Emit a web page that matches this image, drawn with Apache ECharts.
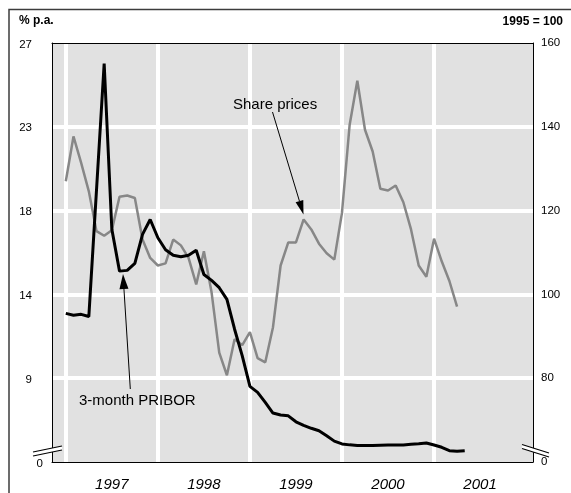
<!DOCTYPE html>
<html>
<head>
<meta charset="utf-8">
<script src="https://cdn.jsdelivr.net/npm/echarts@6/dist/echarts.min.js"></script>
<style>
  html, body { margin: 0; padding: 0; background: #fff; }
  #chart { width: 571px; height: 493px; }
</style>
</head>
<body>
<div id="chart"></div>
<script>
// ---- data ----
const months = [
  '1997-01','1997-02','1997-03','1997-04','1997-05','1997-06','1997-07','1997-08','1997-09','1997-10','1997-11','1997-12',
  '1998-01','1998-02','1998-03','1998-04','1998-05','1998-06','1998-07','1998-08','1998-09','1998-10','1998-11','1998-12',
  '1999-01','1999-02','1999-03','1999-04','1999-05','1999-06','1999-07','1999-08','1999-09','1999-10','1999-11','1999-12',
  '2000-01','2000-02','2000-03','2000-04','2000-05','2000-06','2000-07','2000-08','2000-09','2000-10','2000-11','2000-12',
  '2001-01','2001-02','2001-03','2001-04','2001-05'
];
// 3-month PRIBOR, % p.a. (left axis)
const pribor = [
  12.48, 12.38, 12.43, 12.31, 19.1, 25.9, 17.0, 14.75, 14.79, 15.16, 16.72, 17.52,
  16.54, 15.9, 15.6, 15.52, 15.6, 15.87, 14.57, 14.25, 13.86, 13.23, 11.63, 10.2,
  8.56, 8.24, 7.7, 7.13, 7.02, 6.98, 6.66, 6.47, 6.31, 6.18, 5.91, 5.62,
  5.47, 5.42, 5.38, 5.38, 5.38, 5.40, 5.41, 5.41, 5.41, 5.45, 5.48, 5.52,
  5.41, 5.29, 5.11, 5.08, 5.11
];
// Share prices, 1995 = 100 (right axis)
const sharePrices = [
  127.0, 137.7, 131.4, 124.6, 115.1, 114.0, 115.3, 123.3, 123.6, 123.0, 113.1, 108.7,
  106.9, 107.4, 113.1, 111.7, 108.7, 102.4, 110.3, 100.5, 86.1, 80.7, 89.3, 87.9,
  91.0, 84.8, 83.8, 92.1, 106.9, 112.4, 112.4, 117.9, 115.5, 112.1, 109.8, 108.3,
  119.5, 140.5, 151.0, 139.3, 134.1, 125.2, 124.8, 126.0, 122.0, 115.5, 106.9, 104.2,
  113.3, 107.9, 103.2, 97.1
];
const yearTicks = [1997, 1998, 1999, 2000, 2001];
const leftGridValues = [9, 13.5, 18, 22.5];
const leftAxisTicks = { min: 4.5, max: 27, step: 4.5 };   // bottom tick shown as "0" (axis break)
const rightAxisTicks = { min: 60, max: 160, step: 20 };   // bottom tick shown as "0" (axis break)

function toYear(m) {
  const p = m.split('-').map(Number);
  return p[0] + (p[1] - 1) / 12;
}
const priborData = pribor.map((v, i) => [toYear(months[i]), v]);
const shareData = sharePrices.map((v, i) => [toYear(months[i]), v]);

const FONT = '"Liberation Sans", Arial, Helvetica, sans-serif';

function arrowEls(x1, y1, x2, y2, len, w) {
  const dx = x2 - x1, dy = y2 - y1, L = Math.hypot(dx, dy);
  const ux = dx / L, uy = dy / L;
  const bx = x2 - ux * len, by = y2 - uy * len;
  const px = -uy * w / 2, py = ux * w / 2;
  return [
    { type: 'line', silent: true, z: 100,
      shape: { x1: x1, y1: y1, x2: bx, y2: by },
      style: { stroke: '#000', lineWidth: 1 } },
    { type: 'polygon', silent: true, z: 100,
      shape: { points: [[x2, y2], [bx + px, by + py], [bx - px, by - py]] },
      style: { fill: '#000' } }
  ];
}

function breakEls(ax1, ay1, ax2, ay2, gap) {
  return [
    { type: 'polygon', silent: true, z: 100,
      shape: { points: [[ax1, ay1], [ax2, ay2], [ax2, ay2 + gap], [ax1, ay1 + gap]] },
      style: { fill: '#fff' } },
    { type: 'line', silent: true, z: 101,
      shape: { x1: ax1, y1: ay1, x2: ax2, y2: ay2 },
      style: { stroke: '#000', lineWidth: 1.2 } },
    { type: 'line', silent: true, z: 101,
      shape: { x1: ax1, y1: ay1 + gap, x2: ax2, y2: ay2 + gap },
      style: { stroke: '#000', lineWidth: 1.2 } }
  ];
}

const chart = echarts.init(document.getElementById('chart'), null, { renderer: 'canvas' });

const axisLineStyle = { show: true, lineStyle: { color: '#000', width: 1 } };

const option = {
  animation: false,
  backgroundColor: '#fff',
  textStyle: { fontFamily: FONT },
  title: [
    { text: '% p.a.', left: 19, top: 15, padding: 0,
      textStyle: { fontSize: 12, fontWeight: 'bold', color: '#000', fontFamily: FONT } },
    { text: '1995 = 100', right: 8, top: 16, padding: 0,
      textStyle: { fontSize: 12, fontWeight: 'bold', color: '#000', fontFamily: FONT } }
  ],
  grid: {
    left: 52, right: 38, top: 43, bottom: 31,
    show: true, backgroundColor: '#e1e1e1', borderWidth: 0
  },
  xAxis: [
    {
      type: 'value', position: 'bottom', z: 5,
      min: 1996.85, max: 2002.075, minInterval: 1, maxInterval: 1,
      axisLine: axisLineStyle, axisTick: { show: false }, splitLine: { show: false },
      axisLabel: {
        margin: 15,
        formatter: function (v) {
          const r = Math.round(v);
          if (Math.abs(v - r) < 1e-6 && yearTicks.indexOf(r) >= 0) return '{y|' + r + '}';
          return '';
        },
        rich: {
          y: { padding: [0, 0, 0, 92], fontSize: 15, fontStyle: 'italic', color: '#000', fontFamily: FONT }
        }
      }
    },
    {
      type: 'value', position: 'top', z: 5,
      min: 1996.85, max: 2002.075,
      axisLine: axisLineStyle, axisTick: { show: false }, splitLine: { show: false },
      axisLabel: { show: false }
    }
  ],
  yAxis: [
    {
      type: 'value', position: 'left', z: 5,
      min: leftAxisTicks.min, max: leftAxisTicks.max, interval: leftAxisTicks.step,
      axisLine: axisLineStyle, axisTick: { show: false }, splitLine: { show: false },
      axisLabel: {
        margin: 9,
        formatter: function (v) {
          return v < leftAxisTicks.min + 0.01 ? '{z|0}' : '{n|' + Math.round(v) + '}';
        },
        rich: {
          n: { padding: [3, 11, 0, 0], fontSize: 11.5, color: '#000', fontFamily: FONT },
          z: { padding: [3, 0, 0, 0], fontSize: 11.5, color: '#000', fontFamily: FONT }
        }
      }
    },
    {
      type: 'value', position: 'right', z: 5,
      min: rightAxisTicks.min, max: rightAxisTicks.max, interval: rightAxisTicks.step,
      axisLine: axisLineStyle, axisTick: { show: false }, splitLine: { show: false },
      axisLabel: {
        margin: 8, fontSize: 11.5, color: '#000', fontFamily: FONT,
        formatter: function (v) { return v < rightAxisTicks.min + 0.01 ? '0' : String(v); }
      }
    }
  ],
  series: [
    {
      name: 'gridlines', type: 'line', data: [], z: 1, xAxisIndex: 0, yAxisIndex: 0,
      markLine: {
        z: 1,
        silent: true, symbol: ['none', 'none'], animation: false,
        label: { show: false },
        lineStyle: { color: '#ffffff', width: 4, type: 'solid' },
        emphasis: { disabled: true },
        data: yearTicks.map(y => ({ xAxis: y })).concat(leftGridValues.map(v => ({ yAxis: v })))
      }
    },
    {
      name: 'Share prices', type: 'line', data: shareData, xAxisIndex: 0, yAxisIndex: 1, z: 2,
      showSymbol: false, symbol: 'none',
      lineStyle: { color: '#878787', width: 2.5 }
    },
    {
      name: '3-month PRIBOR', type: 'line', data: priborData, xAxisIndex: 0, yAxisIndex: 0, z: 3,
      showSymbol: false, symbol: 'none',
      lineStyle: { color: '#000000', width: 3 }
    }
  ],
  graphic: [
    { type: 'rect', silent: true, z: 100,
      shape: { x: 9, y: 9.5, width: 800, height: 800 },
      style: { fill: 'none', stroke: '#3c3c3c', lineWidth: 1.5 } },
    { type: 'text', silent: true, z: 100,
      style: { text: 'Share prices', x: 233, y: 105, font: '15px ' + FONT, fill: '#000',
               textAlign: 'left', textVerticalAlign: 'middle', align: 'left', verticalAlign: 'middle' } },
    { type: 'text', silent: true, z: 100,
      style: { text: '3-month PRIBOR', x: 79, y: 401, font: '15px ' + FONT, fill: '#000',
               textAlign: 'left', textVerticalAlign: 'middle', align: 'left', verticalAlign: 'middle' } }
  ]
    .concat(arrowEls(272.5, 112, 303.5, 214.5, 14, 8))
    .concat(arrowEls(130.3, 389, 123, 274, 15, 9))
    .concat(breakEls(33, 452, 62, 446, 4))
    .concat(breakEls(522, 444.5, 549, 453, 4))
};

chart.setOption(option);
</script>
</body>
</html>
